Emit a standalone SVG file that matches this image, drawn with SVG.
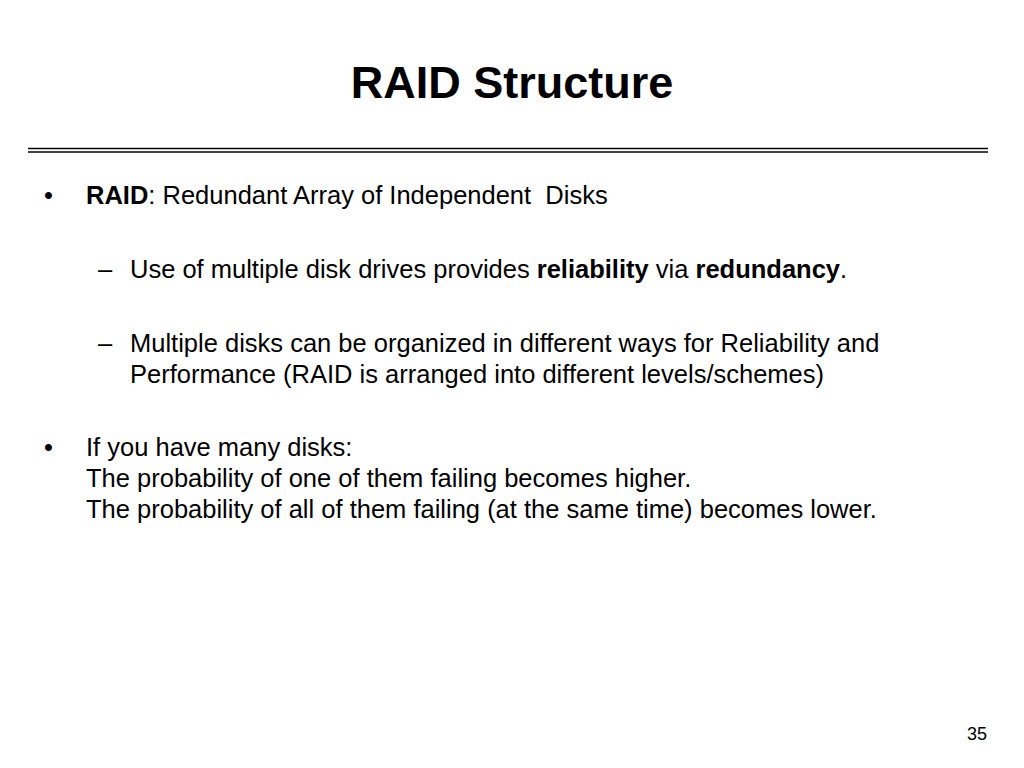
<svg xmlns="http://www.w3.org/2000/svg" width="1024" height="768" viewBox="0 0 1024 768">
<style>
text{font-family:"Liberation Sans",Arial,sans-serif;fill:#000}
.b{font-size:25.5px}
.t{font-size:45px;font-weight:bold}
</style>
<rect width="1024" height="768" fill="#fff"/>
<text class="t" x="512" y="98" text-anchor="middle">RAID Structure</text>
<line x1="28" y1="148.5" x2="988" y2="148.5" stroke="#000" stroke-width="1.5"/>
<line x1="28" y1="152" x2="988" y2="152" stroke="#000" stroke-width="1.5"/>
<text class="b" x="44" y="204">•</text>
<text class="b" x="86" y="204"><tspan font-weight="bold">RAID</tspan>: Redundant Array of Independent &#160;Disks</text>
<text class="b" x="98" y="278">–</text>
<text class="b" x="130" y="278">Use of multiple disk drives provides <tspan font-weight="bold">reliability</tspan> via <tspan font-weight="bold">redundancy</tspan>.</text>
<text class="b" x="98" y="352">–</text>
<text class="b" x="130" y="352">Multiple disks can be organized in different ways for Reliability and</text>
<text class="b" x="130" y="383">Performance (RAID is arranged into different levels/schemes)</text>
<text class="b" x="44" y="456">•</text>
<text class="b" x="86" y="456">If you have many disks:</text>
<text class="b" x="86" y="487">The probability of one of them failing becomes higher.</text>
<text class="b" x="86" y="518">The probability of all of them failing (at the same time) becomes lower.</text>
<text x="987" y="740" font-size="18" text-anchor="end">35</text>
</svg>
